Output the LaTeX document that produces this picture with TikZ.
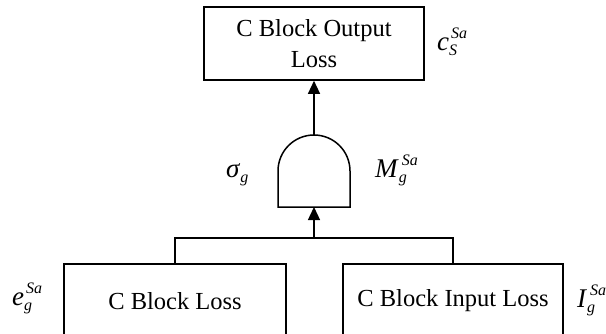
\documentclass[tikz,border=0pt]{standalone}
\usepackage{fontspec}
\setmainfont{Liberation Serif}
\usetikzlibrary{arrows.meta}
\newcommand\scriptfnt{\fontsize{16}{16}\selectfont\itshape}
% main letter, superscript, subscript, gap before superscript
\newcommand\lossvar[4]{\textit{#1}\makebox[0pt][l]{\hspace{#4}\raisebox{12pt}{\scriptfnt #2}}\raisebox{-5pt}{\scriptfnt #3}}
\tikzset{
  lossbox/.style={draw, line width=1.6pt, inner sep=0pt, align=center,
    font=\fontsize{24.5}{31}\selectfont},
  conn/.style={line width=1.3pt},
  arr/.style={conn, -{Triangle[length=13pt,width=12pt]}},
  mlabel/.style={anchor=base west, inner sep=0pt, font=\fontsize{27}{30}\selectfont},
  gatebox/.style={minimum width=72pt, minimum height=72pt, inner sep=0pt, outer sep=0pt}
}
\begin{document}
\begin{tikzpicture}[x=1pt,y=-1pt]
\useasboundingbox (0,0) rectangle (606,333);
\clip (0,0) rectangle (606,333);
\fill[white] (0,0) rectangle (606,333);

\node[lossbox, minimum width=220pt, minimum height=73pt] (top) at (314,43.5) {C Block Output\\Loss};
\node[gatebox] (gate) at (314,171) {};
\node[lossbox, minimum width=222pt, minimum height=74pt] (left) at (175,301) {C Block Loss};
\node[lossbox, minimum width=220pt, minimum height=74pt] (right) at (453,301) {C Block Input Loss};
\coordinate (junc) at (314,238);

\draw[line width=1.5pt] (gate.south west) -- (gate.west) arc[start angle=180, end angle=0, radius=36pt] -- (gate.south east) -- cycle;

\draw[arr] (gate.north) -- (top.south);
\draw[conn] (left.north) |- (junc) -| (right.north);
\draw[arr] (junc) -- (gate.south);

\node[mlabel] (lc) at (437,50) {\lossvar{c}{Sa}{S}{2pt}};
\node[mlabel] (lsig) at (226,177) {\textit{σ}\raisebox{-5pt}{\scriptfnt g}};
\node[mlabel] (lM) at (375,177) {\lossvar{M}{Sa}{g}{3pt}};
\node[mlabel] (le) at (12,305) {\lossvar{e}{Sa}{g}{2pt}};
\node[mlabel] (lI) at (577,307) {\lossvar{I}{Sa}{g}{3pt}};
\end{tikzpicture}
\end{document}
